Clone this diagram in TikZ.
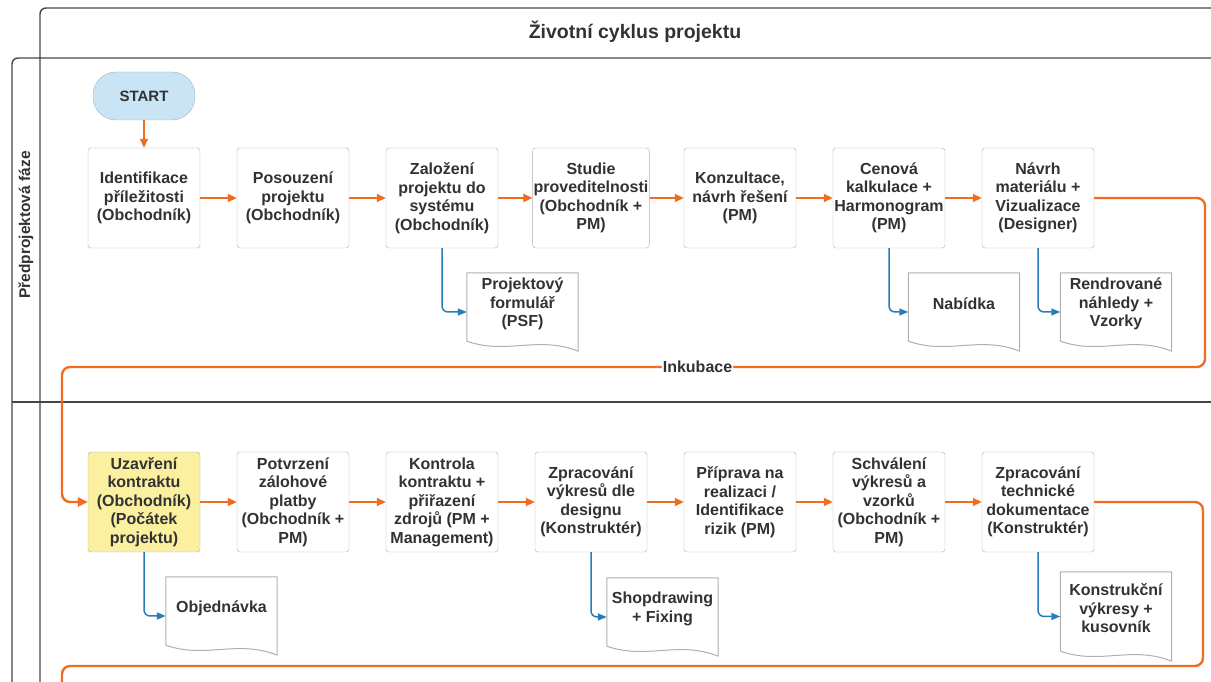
\documentclass[tikz,border=0pt]{standalone}
\usepackage{fontspec}
\setmainfont{Liberation Sans}
\usetikzlibrary{positioning, arrows.meta}

\definecolor{floworange}{RGB}{240,108,35}
\definecolor{docblue}{RGB}{40,125,185}
\definecolor{startblue}{RGB}{200,228,245}
\definecolor{keyyellow}{RGB}{250,240,160}
\definecolor{framegray}{RGB}{70,70,70}
\definecolor{boxgray}{RGB}{175,175,175}
\definecolor{txt}{RGB}{50,50,50}

\newcommand{\docwave}[1]{\draw[boxgray, line width=1pt] ([yshift=-6pt]#1.south west) -- (#1.north west) -- (#1.north east) -- ([yshift=-16pt]#1.south east) .. controls +(-40,16) and +(40,-14) .. ([yshift=-6pt]#1.south west);}

\begin{document}
\begin{tikzpicture}[x=1pt, y=1pt, node distance={149pt}, line join=round,
  box/.style = {draw=boxgray, rounded corners=3pt, fill=white, minimum width=112pt, minimum height=100pt, align=center, text=txt, font=\fontsize{16}{18.5}\selectfont\bfseries, inner sep=1pt},
  doc/.style = {minimum width=111pt, minimum height=62pt, align=center, text=txt, font=\fontsize{16}{18.5}\selectfont\bfseries, inner sep=2pt},
  flow/.style = {floworange, line width=1.8pt, -{Triangle[length=9pt, width=8pt]}},
  loop/.style = {floworange, line width=2.4pt, rounded corners=8pt},
  docflow/.style = {docblue, line width=1.5pt, rounded corners=6pt, -{Triangle[length=9pt, width=7pt]}},
  frame/.style = {framegray, line width=1.4pt},
  lbl/.style = {fill=white, text=txt, font=\fontsize{16}{18}\selectfont\bfseries, inner sep=1pt}]
\useasboundingbox (0,0) rectangle (1211,682);

\draw[frame, rounded corners=6pt] (1211,674) -- (40,674) -- (40,0);
\draw[frame, rounded corners=6pt] (1211,624) -- (12,624) -- (12,0);
\draw[frame] (12,280) -- (1211,280);

\node[text=txt, font=\fontsize{19.5}{22}\selectfont\bfseries] (title) at (635,650) {Životní cyklus projektu};
\node[text=txt, font=\fontsize{15.5}{18}\selectfont\bfseries, rotate=90] (faze) at (26,457) {Předprojektová fáze};

\node[box] (id) at (144,484) {Identifikace\\příležitosti\\(Obchodník)};
\node[box, fill=startblue, rounded corners=23pt, minimum width=102pt, minimum height=48pt, font=\fontsize{15}{18}\selectfont\bfseries] (start) [above of=id, node distance=102pt] {START};
\node[box] (pos) [right of=id] {Posouzení\\projektu\\(Obchodník)};
\node[box] (zal) [right of=pos] {Založení\\projektu do\\systému\\(Obchodník)};
\node[box] (stu) [right of=zal] {Studie\\proveditelnosti\\(Obchodník +\\PM)};
\node[box] (kon) [right of=stu] {Konzultace,\\návrh řešení\\(PM)};
\node[box] (cen) [right of=kon] {Cenová\\kalkulace +\\Harmonogram\\(PM)};
\node[box] (nav) [right of=cen] {Návrh\\materiálu +\\Vizualizace\\(Designer)};

\node[box, fill=keyyellow] (uza) at (144,180) {Uzavření\\kontraktu\\(Obchodník)\\(Počátek\\projektu)};
\node[box] (pot) [right of=uza] {Potvrzení\\zálohové\\platby\\(Obchodník +\\PM)};
\node[box] (ktr) [right of=pot] {Kontrola\\kontraktu +\\přiřazení\\zdrojů (PM +\\Management)};
\node[box] (vyk) [right of=ktr] {Zpracování\\výkresů dle\\designu\\(Konstruktér)};
\node[box] (pri) [right of=vyk] {Příprava na\\realizaci /\\Identifikace\\rizik (PM)};
\node[box] (sch) [right of=pri] {Schválení\\výkresů a\\vzorků\\(Obchodník +\\PM)};
\node[box] (tech) [right of=sch] {Zpracování\\technické\\dokumentace\\(Konstruktér)};

\node[doc] (psf) at (522.5,378) {Projektový\\formulář\\(PSF)};
\node[doc] (nab) at (964,378) {Nabídka};
\node[doc] (ren) at (1116,378) {Rendrované\\náhledy +\\Vzorky};
\node[doc] (obj) at (221.5,74) {Objednávka};
\node[doc] (shop) at (662.5,73) {Shopdrawing\\+ Fixing};
\node[doc, minimum height=73pt] (kdoc) at (1116,73.5) {Konstrukční\\výkresy +\\kusovník};
\docwave{psf}
\docwave{nab}
\docwave{ren}
\docwave{obj}
\docwave{shop}
\docwave{kdoc}

\coordinate (inkR) at (1205,315);
\coordinate (inkL) at (62,315);
\coordinate (botR) at (1203,16);
\coordinate (botL) at (62,16);
\coordinate (botEnd) at (62,0);

\draw[flow] (start) -- (id);
\draw[flow] (id) -- (pos);
\draw[flow] (pos) -- (zal);
\draw[flow] (zal) -- (stu);
\draw[flow] (stu) -- (kon);
\draw[flow] (kon) -- (cen);
\draw[flow] (cen) -- (nav);
\draw[loop, -{Triangle[length=10pt, width=9pt]}] (nav.east) -| (inkR) -- node[lbl, pos=0.444] {Inkubace} (inkL) |- (uza.west);
\draw[flow] (uza) -- (pot);
\draw[flow] (pot) -- (ktr);
\draw[flow] (ktr) -- (vyk);
\draw[flow] (vyk) -- (pri);
\draw[flow] (pri) -- (sch);
\draw[flow] (sch) -- (tech);
\draw[loop] (tech.east) -| (botR) -- (botL) -- (botEnd);

\draw[docflow] (zal.south) |- ([yshift=-8pt]psf.west);
\draw[docflow] (cen.south) |- ([yshift=-8pt]nab.west);
\draw[docflow] (nav.south) |- ([yshift=-8pt]ren.west);
\draw[docflow] (uza.south) |- ([yshift=-8pt]obj.west);
\draw[docflow] (vyk.south) |- ([yshift=-8pt]shop.west);
\draw[docflow] (tech.south) |- ([yshift=-8pt]kdoc.west);
\end{tikzpicture}
\end{document}
